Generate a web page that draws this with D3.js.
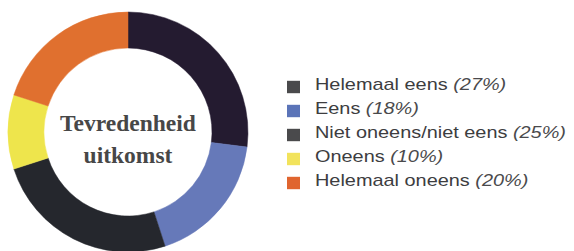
<!DOCTYPE html>
<html>
<head>
<meta charset="utf-8">
<script src="https://cdn.jsdelivr.net/npm/d3@7"></script>
<style>
    body { margin: 0; background: #fff; }
    svg { display: block; }
</style>
</head>
<body>
<svg id="chart"></svg>
<script>
// data
var categories = ["Helemaal eens", "Eens", "Niet oneens/niet eens", "Oneens", "Helemaal oneens"];
var values = [27, 18, 25, 10, 20];

var sliceColors = ["#241b30", "#6679b9", "#25272d", "#eee54c", "#e0702f"];
var legendColors = ["#4a4a4c", "#5b74b8", "#4a4a4c", "#f2e35c", "#e0652f"];

var width = 574, height = 251;
var cx = 128, cy = 132;
var outerR = 120, innerR = 84;

var svg = d3.select("#chart")
    .attr("width", width)
    .attr("height", height);

var pie = d3.pie()
    .sort(null)
    .value(function(d) { return d; });

var arc = d3.arc()
    .innerRadius(innerR)
    .outerRadius(outerR);

var donut = svg.append("g")
    .attr("transform", "translate(" + cx + "," + cy + ")");

donut.selectAll("path")
    .data(pie(values))
    .enter()
    .append("path")
    .attr("d", arc)
    .style("fill", function(d, i) { return sliceColors[i]; })
    .style("stroke", function(d, i) { return sliceColors[i]; })
    .style("stroke-width", 0.5);

// centre label
var centerLines = ["Tevredenheid", "uitkomst"];
donut.selectAll("text.center")
    .data(centerLines)
    .enter()
    .append("text")
    .attr("class", "center")
    .attr("x", 0)
    .attr("y", function(d, i) { return -1 + i * 32; })
    .attr("text-anchor", "middle")
    .style("font-family", "'Liberation Serif', serif")
    .style("font-weight", "bold")
    .style("font-size", "23.5px")
    .style("fill", "#474747")
    .text(function(d) { return d; });

// legend
var legendX = 287, legendY = 87, rowStep = 24;

var rows = svg.append("g")
    .selectAll("g")
    .data(categories)
    .enter()
    .append("g")
    .attr("transform", function(d, i) { return "translate(" + legendX + "," + (legendY + i * rowStep) + ")"; });

rows.append("rect")
    .attr("x", 0)
    .attr("y", -6.2)
    .attr("width", 13)
    .attr("height", 12.4)
    .style("fill", function(d, i) { return legendColors[i]; });

// the legend type in the picture is a wide grotesque: stretch a little sideways
var label = rows.append("text")
    .attr("transform", "translate(28,2.6) scale(1.17,1)")
    .style("font-family", "'Liberation Sans', Arial, sans-serif")
    .style("font-size", "17px")
    .style("fill", "#3d3d3f");

label.append("tspan")
    .text(function(d) { return d + " "; });

label.append("tspan")
    .style("font-style", "italic")
    .style("fill", "#4a4a4c")
    .text(function(d, i) { return "(" + values[i] + "%)"; });
</script>
</body>
</html>
